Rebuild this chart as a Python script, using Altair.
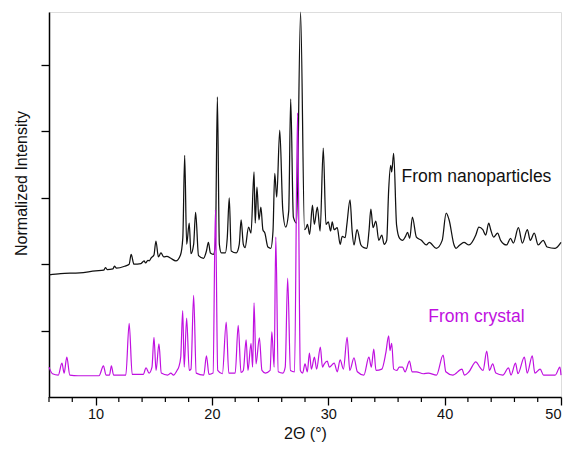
import altair as alt
import pandas as pd

# Nanoparticle pattern (offset), traced vertices
nano_theta = [6.00, 7.0, 8.64, 10.0, 10.7, 10.85, 11.0, 11.5, 11.62, 11.8, 12.5, 12.89, 13.06, 13.3,
              13.9, 14.17, 14.3, 14.5, 14.6, 14.8, 15.02, 15.19, 15.40, 15.62, 15.87, 16.13, 16.47,
              16.9, 17.3, 17.5, 17.66, 17.83, 18.05, 18.2, 18.43, 18.60, 18.85, 19.28, 19.53, 19.70,
              19.87, 20.13, 20.3, 20.47, 20.64, 20.81, 21.15, 21.32, 21.49, 21.66, 22.09, 22.35,
              22.51, 22.7, 22.85, 23.15, 23.36, 23.62, 23.72, 23.87, 24.04, 24.21, 24.38, 24.55,
              24.81, 25.06, 25.25, 25.40, 25.57, 25.83, 26.09, 26.34, 26.6, 26.77, 27.0, 27.28,
              27.62, 27.96, 28.1, 28.21, 28.4, 28.64, 28.8, 29.06, 29.3, 29.57, 29.8, 30.0, 30.2,
              30.34, 30.5, 30.77, 31.02, 31.2, 31.45, 31.6, 31.87, 32.05, 32.21, 32.47, 32.81,
              33.06, 33.32, 33.5, 33.66, 33.85, 34.09, 34.34, 34.60, 34.8, 35.02, 35.19, 35.36,
              35.45, 35.62, 35.87, 36.13, 36.4, 36.64, 36.81, 37.0, 37.23, 37.57, 38.0, 38.43,
              38.68, 39.28, 39.79, 40.13, 40.38, 40.81, 40.98, 41.3, 41.66, 42.09, 42.68, 42.94,
              43.28, 43.53, 43.79, 43.96, 44.21, 44.55, 44.81, 45.32, 45.66, 45.91, 46.34, 46.68,
              47.11, 47.36, 47.70, 48.04, 48.47, 48.81, 49.49, 50.0]
nano_int = [1.84, 1.86, 1.87, 1.90, 1.91, 1.95, 1.92, 1.93, 1.97, 1.94, 1.97, 2.00, 2.15, 2.00,
            2.01, 2.05, 2.02, 2.06, 2.05, 2.10, 2.14, 2.35, 2.11, 2.17, 2.11, 2.12, 2.09,
            2.05, 2.14, 2.40, 3.64, 2.30, 2.62, 2.16, 2.30, 2.78, 2.13, 2.09, 2.20, 2.33,
            2.17, 2.15, 2.30, 4.52, 2.30, 2.17, 2.17, 2.40, 3.00, 2.20, 2.17, 2.30,
            2.67, 2.30, 2.25, 2.56, 2.47, 3.39, 2.62, 3.16, 2.67, 2.86, 2.52, 2.47,
            2.26, 2.24, 2.50, 3.37, 3.01, 4.02, 2.82, 2.56, 2.80, 4.49, 2.71, 2.62,
            5.80, 2.52, 2.55, 2.60, 2.45, 2.89, 2.60, 2.86, 2.50, 3.75, 2.60, 2.64, 2.50,
            2.64, 2.52, 2.55, 2.30, 2.42, 2.40, 2.60, 2.97, 2.50, 2.29, 2.52, 2.29,
            2.25, 2.24, 2.50, 2.83, 2.55, 2.65, 2.36, 2.44, 2.30, 2.36, 3.12, 3.49,
            3.39, 3.67, 2.59, 2.39, 2.36, 2.42, 2.48, 2.39, 2.71, 2.41, 2.36, 2.29,
            2.33, 2.24, 2.36, 2.77, 2.67, 2.29, 2.24, 2.29, 2.33, 2.29, 2.44, 2.56,
            2.52, 2.44, 2.62, 2.52, 2.41, 2.47, 2.36, 2.29, 2.39, 2.32, 2.55, 2.32,
            2.52, 2.36, 2.47, 2.29, 2.36, 2.26, 2.24, 2.33]

# Single-crystal (simulated) pattern, traced vertices
cryst_theta = [6.00, 6.3, 6.8, 7.11, 7.3, 7.53, 7.79, 8.5, 10.3, 10.68, 10.9, 11.2, 11.36, 11.55,
               12.6, 12.89, 13.15, 14.1, 14.34, 14.6, 14.85, 15.02, 15.2, 15.45, 15.65, 16.2,
               16.47, 16.7, 17.0, 17.15, 17.32, 17.49, 17.62, 17.83, 18.05, 18.2, 18.43, 18.65,
               19.3, 19.53, 19.75, 20.1, 20.30, 20.5, 20.9, 21.23, 21.45, 22.0, 22.26, 22.5,
               22.7, 22.94, 23.1, 23.36, 23.5, 23.62, 23.79, 24.08, 24.3, 24.6, 25.0, 25.15,
               25.35, 25.49, 25.7, 26.1, 26.3, 26.51, 26.75, 27.1, 27.36, 27.6, 27.8, 28.0,
               28.2, 28.38, 28.55, 28.81, 29.0, 29.32, 29.5, 29.66, 29.91, 30.09, 30.51, 30.77,
               31.02, 31.3, 31.62, 31.85, 32.21, 32.5, 33.06, 33.49, 33.7, 33.91, 34.1, 34.6,
               34.94, 35.19, 35.3, 35.45, 35.62, 35.9, 36.1, 36.38, 36.6, 36.98, 37.2, 37.57,
               38.17, 38.6, 39.3, 39.87, 40.1, 40.7, 41.49, 41.7, 42.09, 42.68, 43.02, 43.3,
               43.62, 43.85, 44.13, 44.4, 45.0, 45.49, 45.7, 46.09, 46.3, 46.85, 47.1, 47.53,
               47.75, 48.21, 48.5, 49.5, 49.91, 50.0]
cryst_int = [0.45, 0.35, 0.33, 0.51, 0.36, 0.60, 0.33, 0.32, 0.32, 0.47, 0.33, 0.33, 0.47, 0.33,
             0.33, 1.11, 0.34, 0.34, 0.44, 0.36, 0.45, 0.90, 0.40, 0.80, 0.36, 0.33,
             0.36, 0.33, 0.40, 0.45, 0.60, 1.30, 0.45, 1.19, 0.40, 0.42, 1.53, 0.36,
             0.33, 0.62, 0.34, 0.36, 2.82, 0.40, 0.35, 1.13, 0.36, 0.36, 1.08, 0.37,
             0.40, 0.86, 0.40, 0.81, 0.45, 1.42, 0.50, 0.89, 0.40, 0.36, 0.40, 0.98,
             0.45, 2.41, 0.38, 0.36, 0.45, 1.79, 0.40, 0.38, 4.28, 0.40, 0.36, 0.50,
             0.38, 0.66, 0.42, 0.60, 0.42, 0.75, 0.45, 0.50, 0.54, 0.45, 0.51, 0.38,
             0.56, 0.42, 0.90, 0.40, 0.59, 0.38, 0.33, 0.60, 0.45, 0.72, 0.40, 0.42,
             0.66, 0.92, 0.70, 0.81, 0.42, 0.40, 0.45, 0.45, 0.38, 0.54, 0.38, 0.38,
             0.35, 0.36, 0.33, 0.63, 0.38, 0.33, 0.42, 0.33, 0.38, 0.53, 0.45, 0.40,
             0.69, 0.40, 0.50, 0.36, 0.33, 0.44, 0.33, 0.51, 0.35, 0.60, 0.36, 0.62,
             0.36, 0.42, 0.33, 0.33, 0.45, 0.33]

label_text = ["From nanoparticles", "From crystal"]
label_theta = [36.3, 38.6]
label_int = [3.32, 1.20]
label_color = ["#111111", "#c010e0"]

major_ticks = [10, 20, 30, 40, 50]
minor_ticks = [6, 8, 12, 14, 16, 18, 22, 24, 26, 28, 32, 34, 36, 38, 42, 44, 46, 48]
y_ticks = [1, 2, 3, 4, 5]

FONT = "Liberation Sans"
W, H = 512, 385

nano_df = pd.DataFrame({"theta": nano_theta, "intensity": nano_int})
cryst_df = pd.DataFrame({"theta": cryst_theta, "intensity": cryst_int})
lab_df = pd.DataFrame({"theta": label_theta, "intensity": label_int,
                       "text": label_text, "color": label_color})
minor_df = pd.DataFrame({"theta": minor_ticks})

xscale = alt.Scale(domain=[6, 50], nice=False, zero=False)
yscale = alt.Scale(domain=[0, 5.8], nice=False, zero=False)

xaxis = alt.Axis(values=major_ticks, tickSize=8, labelFontSize=14.5, labelPadding=2,
                 title="2Θ (°)", titleFontSize=16, titleFontWeight="normal",
                 titlePadding=5, grid=False, domainColor="#000", tickColor="#000",
                 domainWidth=1.5, tickWidth=1.3, labelColor="#111", titleColor="#111",
                 labelFont=FONT, titleFont=FONT)
yaxis = alt.Axis(values=y_ticks, tickSize=8, labels=False, title="Normalized Intensity",
                 titleFontSize=16, titleFontWeight="normal", titlePadding=11, grid=False,
                 domainColor="#000", tickColor="#000", domainWidth=1.5, tickWidth=1.3,
                 titleColor="#111", titleFont=FONT, titleY=171)

nano = alt.Chart(nano_df).mark_line(color="#111111", strokeWidth=1.25, interpolate="monotone").encode(
    x=alt.X("theta:Q", scale=xscale, axis=xaxis),
    y=alt.Y("intensity:Q", scale=yscale, axis=yaxis),
)
cryst = alt.Chart(cryst_df).mark_line(color="#c010e0", strokeWidth=1.2, interpolate="monotone").encode(
    x=alt.X("theta:Q", scale=xscale),
    y=alt.Y("intensity:Q", scale=yscale),
)
labels = alt.Chart(lab_df).mark_text(align="left", baseline="middle", fontSize=17.5, font=FONT).encode(
    x=alt.X("theta:Q", scale=xscale),
    y=alt.Y("intensity:Q", scale=yscale),
    text="text:N",
    color=alt.Color("color:N", scale=None),
)
minor = alt.Chart(minor_df).mark_rule(color="#000", strokeWidth=1.2).encode(
    x=alt.X("theta:Q", scale=xscale),
    y=alt.value(H),
    y2=alt.value(H + 5),
)

chart = alt.layer(nano, cryst, labels, minor).properties(
    width=W, height=H,
    autosize=alt.AutoSizeParams(type="none"),
    padding={"left": 41, "top": 4, "right": 8, "bottom": 47},
).configure_view(stroke=None).configure(background="white")

chart.save("out.html", embed_options={"renderer": "svg", "actions": False})
